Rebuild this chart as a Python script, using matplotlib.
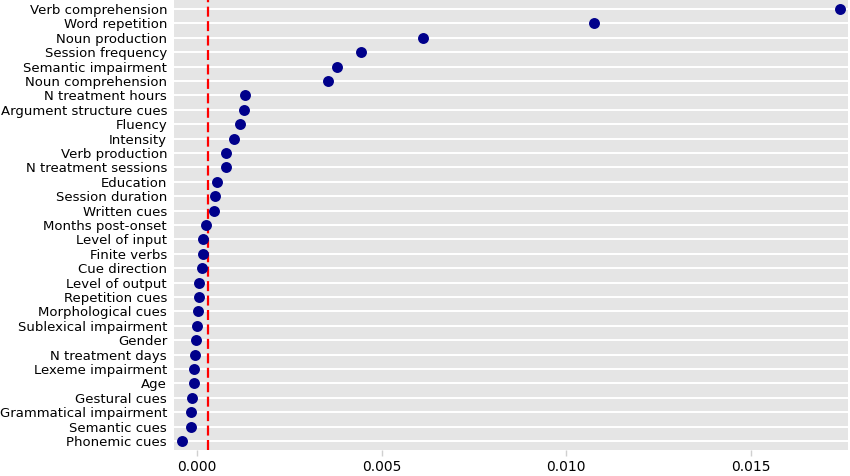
import matplotlib
matplotlib.use("Agg")
import matplotlib.pyplot as plt

features = [
    "Verb comprehension", "Word repetition", "Noun production", "Session frequency",
    "Semantic impairment", "Noun comprehension", "N treatment hours",
    "Argument structure cues", "Fluency", "Intensity", "Verb production",
    "N treatment sessions", "Education", "Session duration", "Written cues",
    "Months post-onset", "Level of input", "Finite verbs", "Cue direction",
    "Level of output", "Repetition cues", "Morphological cues",
    "Sublexical impairment", "Gender", "N treatment days", "Lexeme impairment",
    "Age", "Gestural cues", "Grammatical impairment", "Semantic cues",
    "Phonemic cues",
]
importance = [
    0.01742, 0.01076, 0.00612, 0.00444, 0.00380, 0.00354, 0.00130,
    0.00127, 0.00118, 0.00101, 0.00080, 0.00079, 0.00055, 0.00049,
    0.00046, 0.00024, 0.00017, 0.00016, 0.00014, 0.00006, 0.00005,
    0.00002, 0.00001, -0.00003, -0.00005, -0.00007, -0.00007, -0.00012,
    -0.00016, -0.00017, -0.00039,
]
threshold = 0.0003
xticks = [0.000, 0.005, 0.010, 0.015]

fig = plt.figure(figsize=(8.5, 4.76), dpi=100)
ax = fig.add_axes([174 / 850, 1 - 450 / 476, (848 - 174) / 850, 450 / 476])
ax.set_facecolor("#e5e5e5")

rows = list(range(len(features)))
for y in rows:
    ax.axhline(y, color="white", lw=1.4, zorder=1)
ax.scatter(importance, rows, s=62, color="#00008b", zorder=3, linewidths=0)
ax.axvline(threshold, color="#ff0000", lw=1.6, ls=(0, (4.5, 2)), zorder=2)

ax.set_yticks(rows)
ax.set_yticklabels(features, fontsize=9.5, color="black")
ax.tick_params(axis="y", length=0, pad=5)
ax.set_xticks(xticks)
ax.set_xticklabels([f"{v:.3f}" for v in xticks])
ax.tick_params(axis="x", length=4.5, width=1, color="#d0d0d0", pad=3)
for lab in ax.get_xticklabels():
    lab.set_family(["Liberation Sans Narrow", "DejaVu Sans"])
    lab.set_fontsize(10)

ax.set_xlim(-0.00062, 0.01763)
ax.set_ylim(len(features) - 0.38, -0.62)
for s in ax.spines.values():
    s.set_visible(False)

fig.savefig("out.png", dpi=100)
